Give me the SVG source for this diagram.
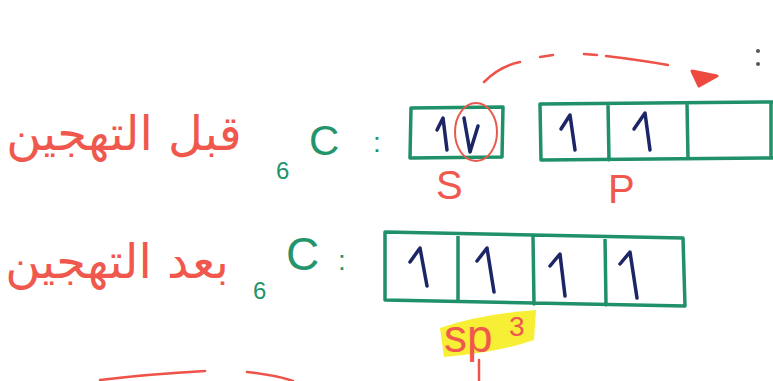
<svg xmlns="http://www.w3.org/2000/svg" width="773" height="381" viewBox="0 0 773 381">
<style>
.red{fill:#f0574d}
.green{fill:#23946c}
.box{fill:none;stroke:#1f9068;stroke-width:3.5;stroke-linejoin:round;stroke-linecap:round}
.e{fill:none;stroke:#1c2566;stroke-width:3.5;stroke-linecap:round;stroke-linejoin:round}
.rs{fill:none;stroke:#ee5248;stroke-width:2.5;stroke-linecap:round}
.ar{font-family:"DejaVu Sans",sans-serif}
.lt{font-family:"Liberation Sans","DejaVu Sans",sans-serif}
</style>
<rect width="773" height="381" fill="#ffffff"/>

<g id="label-before">
<text class="red ar" x="124" y="150" font-size="48" text-anchor="middle">قبل التهجين</text>
</g>
<g id="label-after">
<text class="red ar" x="117" y="278" font-size="48" text-anchor="middle">بعد التهجين</text>
</g>

<g id="carbon-before">
<text class="green lt" x="276" y="179" font-size="24">6</text>
<text class="green lt" x="309" y="155" font-size="42">C</text>
<text class="green lt" x="373" y="152" font-size="28">:</text>
</g>

<g id="s-orbital">
<path class="box" d="M411,108 L503,107 L502,157 L410,158 Z"/>
<path class="e" d="M437,130 L443,118 L447,150"/>
<path class="e" d="M464,118 L470,152 L478,126"/>
<ellipse cx="476" cy="132" rx="21" ry="29" fill="none" stroke="#e8584d" stroke-width="2"/>
<text class="red lt" x="436" y="199" font-size="40">S</text>
</g>

<g id="p-orbital">
<path class="box" d="M540,104 L773,102 M540,104 L541,160 L773,158 M608,104 L609,160 M687,103 L688,159 M771,102 L771,158"/>
<path class="e" d="M561,129 L570,115 L575,150"/>
<path class="e" d="M634,129 L645,113 L650,150"/>
<text class="red lt" x="608" y="203" font-size="40">P</text>
</g>

<g id="carbon-after">
<text class="green lt" x="253" y="299" font-size="24">6</text>
<text class="green lt" x="286" y="270" font-size="46">C</text>
<text class="green lt" x="338" y="270" font-size="28">:</text>
</g>

<g id="sp3-orbital">
<path class="box" d="M385,232 L683,238 L685,306 L385,300 Z M458,234 L458,301 M533,236 L534,304 M605,237 L606,305"/>
<path class="e" d="M410,262 L420,248 L427,286"/>
<path class="e" d="M477,261 L487,248 L494,292"/>
<path class="e" d="M550,266 L560,254 L565,296"/>
<path class="e" d="M620,264 L630,252 L637,298"/>
<path d="M440,328 Q480,314 536,310 L534,340 Q500,352 444,357 Z" fill="#f7ee36"/>
<text class="red lt" x="444" y="352" font-size="46">sp</text>
<text class="red lt" x="509" y="336" font-size="28">3</text>
<path class="rs" d="M479,360 L479,381" stroke-width="3"/>
</g>

<g id="connectors">
<path class="rs" stroke-width="3" d="M484,82 Q500,66 520,62"/>
<path class="rs" stroke-width="3" d="M540,57 L553,55"/>
<path class="rs" stroke-width="3" d="M584,54 L597,55"/>
<path class="rs" stroke-width="3" d="M606,56 Q640,60 668,65"/>
<path d="M692,71 L717,76 L699,86 Z" fill="#ee4a3f" stroke="#ee4a3f" stroke-width="3" stroke-linejoin="round"/>
<circle cx="758" cy="51" r="2" fill="#555"/>
<circle cx="758" cy="64" r="2" fill="#555"/>
<path class="rs" d="M100,380 Q150,374 205,371"/>
<path class="rs" d="M247,372 Q275,375 293,381"/>
</g>
</svg>
